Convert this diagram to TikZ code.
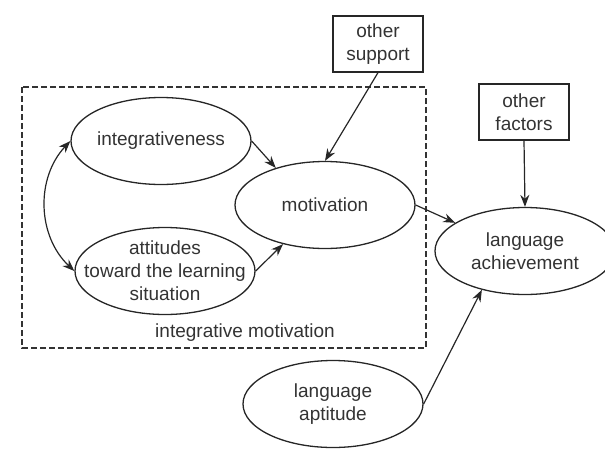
\documentclass[tikz,border=0pt]{standalone}
\usepackage{fontspec}
\setmainfont{Liberation Sans}
\usetikzlibrary{shapes.geometric,arrows.meta}
\begin{document}
\begin{tikzpicture}[x=1pt,y=-1pt,
    every node/.style={font=\fontsize{19}{23}\selectfont, text=black!80, align=center},
    oval/.style={draw=black!85, ellipse, line width=1.3pt, inner sep=0pt,
      minimum width=180pt, minimum height=87pt},
    tag/.style={draw=black!85, rectangle, line width=1.3pt, inner sep=0pt,
      minimum width=90pt, minimum height=56pt},
    link/.style={draw=black!85, line width=1.2pt, -{Stealth[length=12pt,width=9pt]}}]
  \useasboundingbox (0,0) rectangle (605,461);

  % dashed frame round the integrative part
  \draw[black!80, line width=1.2pt, dash pattern=on 6pt off 3pt] (22,87) rectangle (426,348);
  \node (frame-txt) at (245,333) {integrative motivation};

  % ovals, text set on top so it does not grow them
  \node[oval] (integ) at (161,141) {};
  \node (integ-txt) at (integ) {integrativeness};
  \node[oval] (att) at (165,271) {};
  \node (att-txt) at (att) {attitudes\\toward the learning\\situation};
  \node[oval] (mot) at (325,205) {};
  \node (mot-txt) at (mot) {motivation};
  \node[oval] (ach) at (525,251) {};
  \node (ach-txt) at (ach) {language\\achievement};
  \node[oval] (apt) at (333,404) {};
  \node (apt-txt) at (apt) {language\\aptitude};

  % boxes
  \node[tag] (support) at (378,44) {other\\support};
  \node[tag] (factors) at (524,112) {other\\factors};

  % arrows
  \draw[link, {Stealth[length=12pt,width=9pt]}-{Stealth[length=12pt,width=9pt]}]
    (integ.west) to[bend right=45] (att.west);
  \draw[link] (integ.east) -- (mot.143);
  \draw[link] (att.east) -- (mot.223);
  \draw[link] (support.south) -- (mot.north);
  \draw[link] (mot.east) -- (ach.158);
  \draw[link] (factors.south) -- (ach.north);
  \draw[link] (apt.east) -- (ach.222);
\end{tikzpicture}
\end{document}
